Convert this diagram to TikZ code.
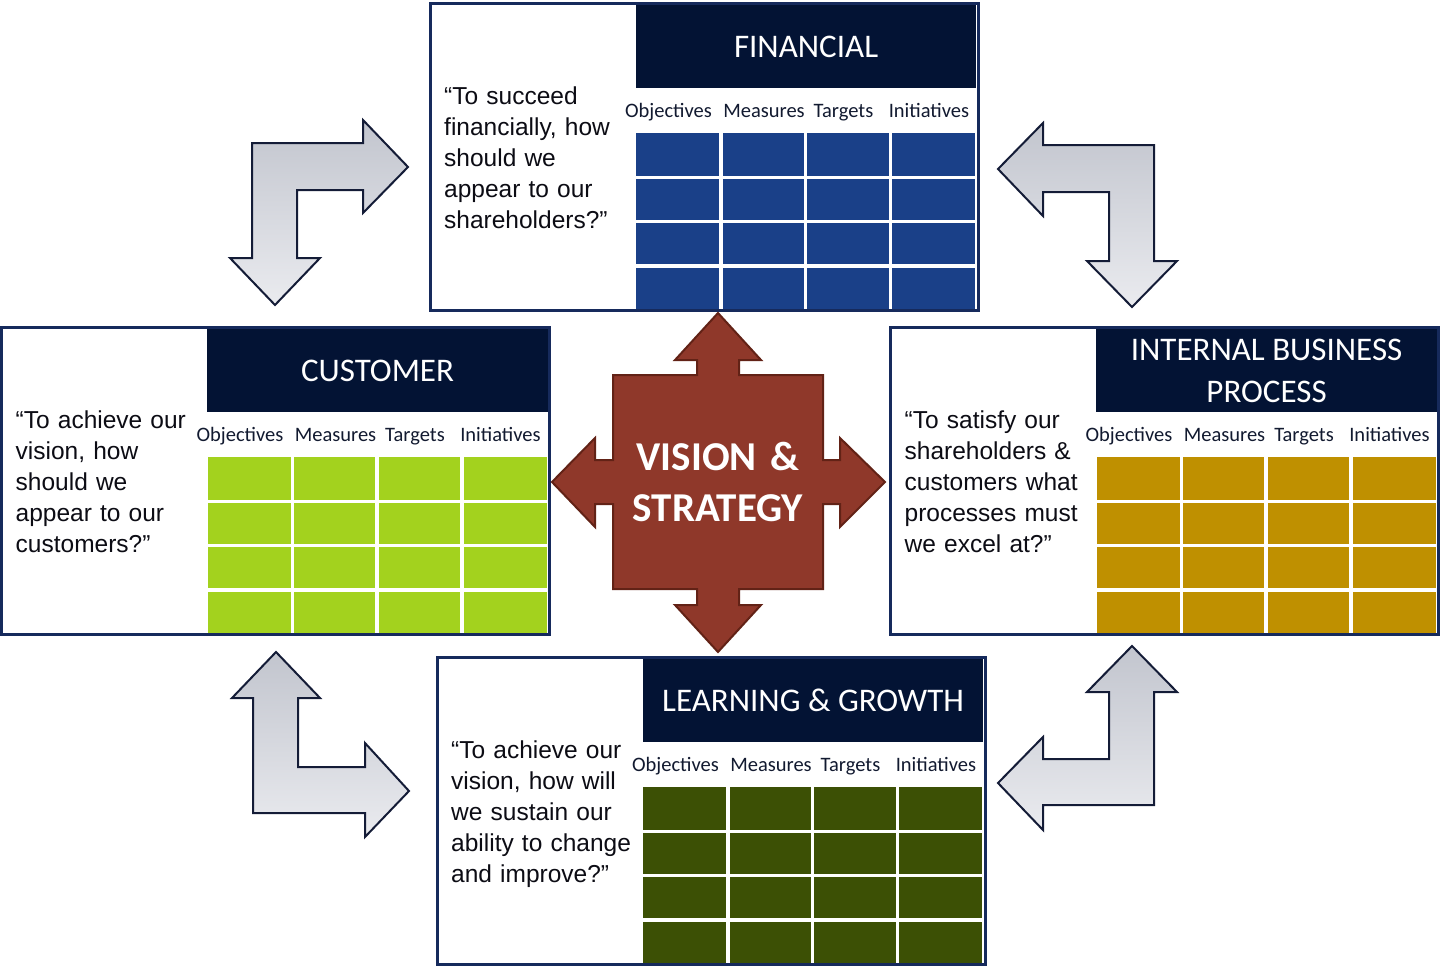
\documentclass[tikz,border=0pt]{standalone}
\usepackage{fontspec}
\setmainfont{Liberation Sans}
\newfontfamily\calibfont{Carlito}
\usepackage{tikz}

\definecolor{boxline}{RGB}{22,42,92}
\definecolor{hdrnavy}{RGB}{3,19,52}
\definecolor{finblue}{RGB}{26,64,136}
\definecolor{custgreen}{RGB}{163,210,30}
\definecolor{intgold}{RGB}{191,144,0}
\definecolor{learngreen}{RGB}{60,80,5}
\definecolor{vsfill}{RGB}{143,56,42}
\definecolor{vsline}{RGB}{98,34,22}
\definecolor{arrowdark}{RGB}{194,197,206}
\definecolor{arrowlight}{RGB}{234,235,239}
\definecolor{arrowline}{RGB}{20,28,55}
\definecolor{labeltext}{RGB}{18,26,48}

\newcommand{\bscpanel}[6]{%
  \node[panel] (#1) at (#2,#3) {};
  \node[header] (#1head) at ({#2+546.5},{#3+1.5}) {#5};
  \node[quote] (#1quote) at ({#2+14},{#3+101}) {#6};
  \foreach \lbl/\dx [count=\k] in {Objectives/238.5,Measures/334,Targets/413.5,Initiatives/499}
    \node[colhead] (#1col\k) at ({#2+\dx},{#3+114.5}) {\lbl};
  \fill[#4] ({#2+206},{#3+130}) rectangle ({#2+545},{#3+305.5});
  \foreach \dx in {290.75,375.5,460.25}
    \draw[gridline] ({#2+\dx},{#3+130}) -- ({#2+\dx},{#3+305.5});
  \foreach \dy in {174.25,218.5,262.75}
    \draw[gridline] ({#2+206},{#3+\dy}) -- ({#2+545},{#3+\dy});
}

\begin{document}
\begin{tikzpicture}[x=1pt, y=-1pt,
    panel/.style={draw=boxline, fill=white, line width=3pt, anchor=north west, outer sep=0pt,
      minimum width=548pt, minimum height=307pt, inner sep=0pt},
    header/.style={fill=hdrnavy, anchor=north east, minimum width=340.5pt, minimum height=83.5pt,
      inner sep=0pt, text=white, align=center, font=\calibfont\fontsize{33}{42}\selectfont},
    quote/.style={anchor=base west, inner sep=0pt, text width=200pt, align=left,
      text={rgb,255:red,12;green,12;blue,20}, font=\fontsize{24.5}{31}\selectfont},
    colhead/.style={anchor=base, inner sep=0pt, text=labeltext, font=\calibfont\fontsize{20.5}{24}\selectfont},
    gridline/.style={white, line width=3.5pt},
    larrow/.style={draw=arrowline, line width=2pt, line join=miter, top color=arrowdark, bottom color=arrowlight},
    vsarrow/.style={fill=vsfill, draw=vsline, line width=2pt, line join=miter},
    vstext/.style={anchor=base, inner sep=0pt, text width=260pt, align=center, text=white,
      font=\calibfont\bfseries\fontsize{41}{51}\selectfont}]
  \useasboundingbox (0,0) rectangle (1448,967);

  \bscpanel{fin}{430}{3}{finblue}{FINANCIAL}{“To succeed\\financially, how\\should we\\appear to our\\shareholders?”}
  \bscpanel{cust}{1.5}{327}{custgreen}{CUSTOMER}{“To achieve our\\vision, how\\should we\\appear to our\\customers?”}
  \bscpanel{int}{890.5}{327}{intgold}{INTERNAL BUSINESS\\PROCESS}{“To satisfy our\\shareholders \&\\customers what\\processes must\\we excel at?”}
  \bscpanel{learn}{437}{657}{learngreen}{LEARNING \& GROWTH}{“To achieve our\\vision, how will\\we sustain our\\ability to change\\and improve?”}

  \draw[vsarrow] (718,313) -- (761,360) -- (739,360) -- (739,375) -- (823,375) -- (823,460)
    -- (840,460) -- (840,438) -- (885,482) -- (840,527) -- (840,504) -- (823,504) -- (823,589)
    -- (739,589) -- (739,605) -- (761,605) -- (718,652) -- (675,605) -- (697,605) -- (697,589)
    -- (613,589) -- (613,504) -- (595,504) -- (595,527) -- (552,482) -- (595,438) -- (595,460)
    -- (613,460) -- (613,375) -- (697,375) -- (697,360) -- (675,360) -- cycle;
  \node[vstext] (vision) at (718,470) {VISION \&\\STRATEGY};

  \draw[larrow] (252,143) -- (363,143) -- (363,120) -- (408,167) -- (363,213) -- (363,190)
    -- (297,190) -- (297,258) -- (320,258) -- (275,305) -- (230,258) -- (252,258) -- cycle;
  \draw[larrow] (1154,145) -- (1154,261) -- (1177,261) -- (1132,307) -- (1087,261) -- (1109,261)
    -- (1109,192) -- (1043,192) -- (1043,216) -- (998,169) -- (1043,123) -- (1043,145) -- cycle;
  \draw[larrow] (276,652) -- (320,698) -- (298,698) -- (298,767) -- (365,767) -- (365,743)
    -- (409,791) -- (365,837) -- (365,813) -- (253,813) -- (253,698) -- (232,698) -- cycle;
  \draw[larrow] (1132,646) -- (1177,692) -- (1154,692) -- (1154,805) -- (1043,805) -- (1043,830)
    -- (998,783) -- (1043,737) -- (1043,759) -- (1109,759) -- (1109,692) -- (1087,692) -- cycle;
\end{tikzpicture}
\end{document}
